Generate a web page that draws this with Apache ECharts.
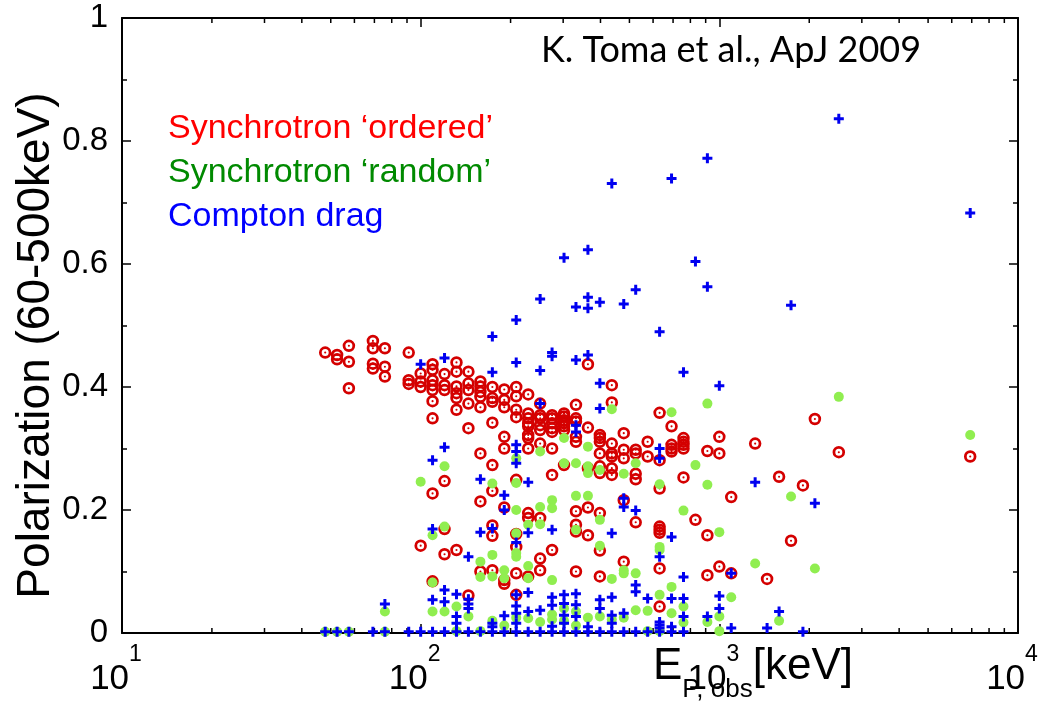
<!DOCTYPE html>
<html><head><meta charset="utf-8">
<script src="https://cdn.jsdelivr.net/npm/echarts@6/dist/echarts.min.js"></script>
<style>html,body{margin:0;padding:0;background:#fff}#c{width:1052px;height:710px}</style>
</head><body><div id="c"></div>
<script>
const seriesNames = ['Synchrotron \u2018ordered\u2019', 'Synchrotron \u2018random\u2019', 'Compton drag'];
const creditText = 'K. Toma et al., ApJ 2009';
const yAxisTitle = 'Polarization (60-500keV)';

const orderedPts = [
[47.9,0.456],[52.5,0.452],[52.5,0.445],[57.5,0.467],[57.5,0.441],[57.5,0.398],
[69.2,0.475],[69.2,0.463],[69.2,0.438],[69.2,0.430],[75.9,0.463],[75.9,0.433],[75.9,0.417],
[91.2,0.456],[91.2,0.411],[91.2,0.405],[100,0.422],[100,0.409],[100,0.400],[100,0.142],
[109.6,0.437],[109.6,0.428],[109.6,0.411],[109.6,0.403],[109.6,0.395],[109.6,0.377],[109.6,0.349],[109.6,0.227],[109.6,0.084],
[120.2,0.421],[120.2,0.403],[120.2,0.395],[120.2,0.247],[120.2,0.169],[120.2,0.128],
[131.8,0.440],[131.8,0.425],[131.8,0.401],[131.8,0.390],[131.8,0.382],[131.8,0.363],[131.8,0.135],
[144.5,0.425],[144.5,0.406],[144.5,0.395],[144.5,0.373],[144.5,0.333],[144.5,0.061],
[158.5,0.409],[158.5,0.401],[158.5,0.392],[158.5,0.384],[158.5,0.367],[158.5,0.292],[158.5,0.214],[158.5,0.100],
[173.8,0.400],[173.8,0.382],[173.8,0.376],[173.8,0.342],[173.8,0.273],[173.8,0.231],[173.8,0.175],[173.8,0.158],[173.8,0.102],
[190.5,0.396],[190.5,0.379],[190.5,0.367],[190.5,0.319],[190.5,0.300],[190.5,0.204],[190.5,0.086],[190.5,0.080],
[208.9,0.400],[208.9,0.385],[208.9,0.363],[208.9,0.351],[208.9,0.249],[208.9,0.161],[208.9,0.140],[208.9,0.097],[208.9,0.062],
[229.1,0.388],[229.1,0.357],[229.1,0.349],[229.1,0.341],[229.1,0.336],[229.1,0.322],[229.1,0.317],[229.1,0.300],[229.1,0.195],[229.1,0.187],[229.1,0.092],
[251.2,0.373],[251.2,0.354],[251.2,0.349],[251.2,0.338],[251.2,0.330],[251.2,0.308],[251.2,0.187],[251.2,0.121],[251.2,0.102],
[275.4,0.354],[275.4,0.349],[275.4,0.341],[275.4,0.333],[275.4,0.327],[275.4,0.300],[275.4,0.257],[275.4,0.135],
[302,0.357],[302,0.352],[302,0.346],[302,0.341],[302,0.336],[302,0.330],[302,0.273],
[331.1,0.371],[331.1,0.349],[331.1,0.344],[331.1,0.319],[331.1,0.311],[331.1,0.198],[331.1,0.176],[331.1,0.165],[331.1,0.100],
[363.1,0.437],[363.1,0.334],[363.1,0.268],[363.1,0.204],[363.1,0.159],
[398.1,0.322],[398.1,0.317],[398.1,0.311],[398.1,0.292],[398.1,0.271],[398.1,0.260],[398.1,0.195],[398.1,0.134],[398.1,0.092],
[436.5,0.403],[436.5,0.375],[436.5,0.308],[436.5,0.292],[436.5,0.287],[436.5,0.268],[436.5,0.257],
[478.6,0.325],[478.6,0.298],[478.6,0.284],[478.6,0.216],[478.6,0.116],
[524.8,0.298],[524.8,0.292],[524.8,0.259],[524.8,0.250],[524.8,0.180],
[575.4,0.311],[575.4,0.287],
[631,0.358],[631,0.281],[631,0.235],[631,0.173],[631,0.168],[631,0.163],[631,0.105],[631,0.043],
[691.8,0.336],[691.8,0.306],[691.8,0.300],[691.8,0.295],
[758.6,0.317],[758.6,0.311],[758.6,0.306],[758.6,0.300],[758.6,0.253],
[831.8,0.184],[912,0.296],[912,0.159],[912,0.094],[1000,0.319],[1000,0.292],[1000,0.108],
[1096,0.221],[1096,0.097],[1318,0.308],[1445,0.088],[1585,0.254],[1738,0.150],[1905,0.240],
[2089,0.348],[2512,0.294],[6918,0.287]
];

const randomPts = [
[47.9,0.002],[52.5,0.002],[57.5,0.002],[75.9,0.035],[75.9,0.002],[100,0.246],
[109.6,0.159],[109.6,0.082],[109.6,0.035],[120.2,0.271],[120.2,0.173],[120.2,0.035],
[131.8,0.043],[131.8,0.003],[144.5,0.027],[158.5,0.116],[158.5,0.091],[158.5,0.003],
[173.8,0.243],[173.8,0.127],[173.8,0.092],[173.8,0.020],[190.5,0.102],[190.5,0.089],[190.5,0.012],
[208.9,0.284],[208.9,0.244],[208.9,0.200],[208.9,0.162],[208.9,0.130],[208.9,0.124],[208.9,0.025],
[229.1,0.176],[229.1,0.109],[229.1,0.089],[229.1,0.024],[251.2,0.295],[251.2,0.205],[251.2,0.177],[251.2,0.018],
[275.4,0.216],[275.4,0.203],[275.4,0.086],[275.4,0.030],[275.4,0.022],
[302,0.317],[302,0.276],[302,0.040],[302,0.020],
[331.1,0.276],[331.1,0.223],[331.1,0.168],[331.1,0.035],[331.1,0.012],
[363.1,0.303],[363.1,0.271],[363.1,0.260],[363.1,0.223],[363.1,0.025],
[398.1,0.265],[398.1,0.184],[398.1,0.142],[398.1,0.027],[436.5,0.364],[436.5,0.088],[436.5,0.022],
[478.6,0.259],[478.6,0.102],[478.6,0.097],[478.6,0.025],[524.8,0.276],[524.8,0.097],[524.8,0.037],
[575.4,0.036],[575.4,0.003],[631,0.242],[631,0.140],[631,0.135],[631,0.062],[631,0.003],
[691.8,0.359],[691.8,0.075],[691.8,0.032],[758.6,0.199],[758.6,0.043],[758.6,0.017],
[831.8,0.273],[912,0.373],[912,0.241],[912,0.018],[1000,0.164],[1000,0.027],[1000,0.003],
[1096,0.058],[1318,0.113],[1585,0.020],[1738,0.222],[2089,0.105],[2512,0.384],[6918,0.322]
];

const comptonPts = [
[2512,0.836],[912,0.772],[691.8,0.739],[436.5,0.731],[6918,0.683],[363.1,0.623],[302,0.610],[831.8,0.604],
[912,0.563],[524.8,0.558],[251.2,0.543],[363.1,0.546],[398.1,0.538],[478.6,0.535],[1738,0.533],[331.1,0.530],
[363.1,0.528],[208.9,0.509],[631,0.490],[173.8,0.482],
[275.4,0.456],[275.4,0.450],[363.1,0.452],[120.2,0.447],[331.1,0.444],[208.9,0.440],[100,0.437],[251.2,0.427],
[173.8,0.424],[758.6,0.424],[398.1,0.406],[1000,0.402],[251.2,0.373],[398.1,0.365],[331.1,0.338],[331.1,0.327],
[208.9,0.306],[208.9,0.295],[208.9,0.276],[120.2,0.302],[109.6,0.281],[631,0.300],[631,0.284],
[1318,0.245],[229.1,0.245],[158.5,0.250],[190.5,0.224],[190.5,0.200],[478.6,0.219],[478.6,0.205],[524.8,0.199],
[2089,0.211],[109.6,0.169],[275.4,0.168],[158.5,0.164],[229.1,0.163],[436.5,0.162],[173.8,0.170],[691.8,0.156],
[208.9,0.147],[631,0.124],[144.5,0.124],[758.6,0.091],[1096,0.097],[524.8,0.078],[524.8,0.067],
[131.8,0.063],[131.8,0.027],[131.8,0.016],[144.5,0.055],[144.5,0.047],[144.5,0.040],[109.6,0.054],
[120.2,0.070],[120.2,0.051],[75.9,0.047],[190.5,0.028],[208.9,0.062],[208.9,0.044],[208.9,0.032],[208.9,0.016],
[229.1,0.066],[229.1,0.035],[251.2,0.037],[275.4,0.058],[275.4,0.045],[275.4,0.011],
[302,0.062],[302,0.048],[302,0.029],[302,0.016],[331.1,0.064],[331.1,0.046],[331.1,0.027],[363.1,0.010],
[398.1,0.054],[398.1,0.040],[436.5,0.058],[436.5,0.029],[436.5,0.016],[478.6,0.032],[575.4,0.056],
[631,0.018],[631,0.013],[631,0.008],[691.8,0.056],[691.8,0.010],[758.6,0.056],[758.6,0.027],[912,0.027],
[1000,0.060],[1000,0.040],[1096,0.008],[1445,0.008],[1585,0.035],[1905,0.002],[173.8,0.016],[173.8,0.010],
[47.9,0.002],[52.5,0.002],[57.5,0.002],[69.2,0.002],[75.9,0.002],[91.2,0.002],[100,0.002],[109.6,0.002],
[120.2,0.002],[131.8,0.002],[144.5,0.002],[158.5,0.002],[173.8,0.002],[190.5,0.002],[208.9,0.002],[229.1,0.002],
[251.2,0.002],[275.4,0.002],[302,0.002],[331.1,0.002],[363.1,0.002],[398.1,0.002],[436.5,0.002],[478.6,0.002],
[524.8,0.002],[575.4,0.002],[631,0.002],[691.8,0.002],[758.6,0.002]
];

const xMinorTicks = [20,30,40,50,60,70,80,90,200,300,400,500,600,700,800,900,2000,3000,4000,5000,6000,7000,8000,9000];
const yTickLabels = ['0', '0.2', '0.4', '0.6', '0.8', '1'];

const RING = 'path://M10,0A10,10,0,1,1,10,20A10,10,0,1,1,10,0ZM10,4.4A5.6,5.6,0,1,0,10,15.6A5.6,5.6,0,1,0,10,4.4ZM10,8.3A1.7,1.7,0,1,1,10,11.7A1.7,1.7,0,1,1,10,8.3Z';
const PLUS = 'path://M3.5,0H6.5V3.5H10V6.5H6.5V10H3.5V6.5H0V3.5H3.5Z';
const FONT = 'Liberation Sans';
const TICK = { color: '#000', width: 1.5 };

const chart = echarts.init(document.getElementById('c'), null, { renderer: 'canvas' });
const option = {
  animation: false,
  backgroundColor: '#fff',
  title: {
    text: creditText, left: 536, top: 27,
    textStyle: { fontFamily: 'Lato', fontSize: 36, fontWeight: 'normal', color: '#000' }
  },
  legend: {
    orient: 'vertical', left: 158, top: 106, itemGap: 9, itemWidth: 0, itemHeight: 0,
    selectedMode: false,
    textStyle: { fontFamily: FONT, fontSize: 34, lineHeight: 35 },
    data: [
      { name: seriesNames[0], icon: 'none', textStyle: { color: '#ff0000' } },
      { name: seriesNames[1], icon: 'none', textStyle: { color: '#008a00' } },
      { name: seriesNames[2], icon: 'none', textStyle: { color: '#0000ff' } }
    ]
  },
  grid: { left: 122, right: 34, top: 18, bottom: 77, containLabel: false, outerBoundsMode: 'none' },
  xAxis: [
    {
      type: 'log', logBase: 10, min: 10, max: 10000, position: 'bottom',
      axisLine: { show: true, onZero: false, lineStyle: { color: '#000', width: 2 } },
      axisTick: { show: true, inside: true, length: 9, lineStyle: TICK },
      axisLabel: {
        show: true, margin: 10, padding: [0, 12, 0, 0],
        formatter: function (v) { return '{b|10}{s|' + Math.round(Math.log10(v)) + '}'; },
        rich: {
          b: { fontSize: 35, fontFamily: FONT, color: '#000', lineHeight: 54, verticalAlign: 'bottom' },
          s: { fontSize: 23, fontFamily: FONT, color: '#000', lineHeight: 23, verticalAlign: 'top' }
        }
      },
      splitLine: { show: false },
      name: '{e|E}{u|P, obs}{k|[keV]}{z|\u200b}', nameLocation: 'middle', nameGap: 12, nameMoveOverlap: false,
      nameTextStyle: {
        padding: [0, 0, 0, 366],
        rich: {
          e: { fontSize: 44, fontFamily: FONT, color: '#000', lineHeight: 44, verticalAlign: 'top' },
          u: { fontSize: 26, fontFamily: FONT, color: '#000', lineHeight: 26, verticalAlign: 'bottom' },
          k: { fontSize: 44, fontFamily: FONT, color: '#000', lineHeight: 44, verticalAlign: 'top' },
          z: { fontSize: 10, lineHeight: 58, verticalAlign: 'top' }
        }
      }
    },
    {
      type: 'log', logBase: 10, min: 10, max: 10000, position: 'top',
      axisLine: { show: true, onZero: false, lineStyle: { color: '#000', width: 2 } },
      axisTick: { show: true, inside: true, length: 9, lineStyle: TICK },
      axisLabel: { show: false }, splitLine: { show: false }
    }
  ],
  yAxis: [
    {
      type: 'value', min: 0, max: 1, interval: 0.2, position: 'left',
      axisLine: { show: true, lineStyle: { color: '#000', width: 2 } },
      axisTick: { show: true, inside: true, length: 9, lineStyle: TICK },
      minorTick: { show: true, splitNumber: 2, length: 5, lineStyle: TICK },
      axisLabel: { margin: 14, fontSize: 33, fontFamily: FONT, color: '#000',
        formatter: function (v) { return yTickLabels[Math.round(v * 5)]; } },
      splitLine: { show: false },
      name: yAxisTitle, nameLocation: 'middle', nameGap: 63, nameMoveOverlap: false,
      nameTextStyle: { fontSize: 46, fontFamily: FONT, color: '#000', padding: [0, 40, 0, 0] }
    },
    {
      type: 'value', min: 0, max: 1, interval: 0.2, position: 'right',
      axisLine: { show: true, lineStyle: { color: '#000', width: 2 } },
      axisTick: { show: true, inside: true, length: 9, lineStyle: TICK },
      minorTick: { show: true, splitNumber: 2, length: 5, lineStyle: TICK },
      axisLabel: { show: false }, splitLine: { show: false }
    }
  ],
  series: [
    {
      type: 'custom', xAxisIndex: 0, yAxisIndex: 0, silent: true, clip: false, z: 1,
      data: xMinorTicks.map(function (v) { return [v, 0]; }),
      renderItem: function (params, api) {
        const b = api.coord([api.value(0), 0]);
        const t = api.coord([api.value(0), 1]);
        return { type: 'group', children: [
          { type: 'line', shape: { x1: b[0], y1: b[1], x2: b[0], y2: b[1] - 5 }, style: { stroke: '#000', lineWidth: 1.5 } },
          { type: 'line', shape: { x1: t[0], y1: t[1], x2: t[0], y2: t[1] + 5 }, style: { stroke: '#000', lineWidth: 1.5 } }
        ] };
      }
    },
    {
      name: seriesNames[0], type: 'scatter', xAxisIndex: 0, yAxisIndex: 0, data: orderedPts,
      symbol: RING, symbolSize: 12.5, itemStyle: { color: '#d40000', opacity: 1 }, z: 2
    },
    {
      name: seriesNames[1], type: 'scatter', xAxisIndex: 0, yAxisIndex: 0, data: randomPts,
      symbol: 'circle', symbolSize: 10, itemStyle: { color: '#90ee50', opacity: 1 }, z: 3
    },
    {
      name: seriesNames[2], type: 'scatter', xAxisIndex: 0, yAxisIndex: 0, data: comptonPts,
      symbol: PLUS, symbolSize: 10, itemStyle: { color: '#0000f0', opacity: 1 }, z: 4
    }
  ]
};
chart.setOption(option);
</script>
</body></html>
